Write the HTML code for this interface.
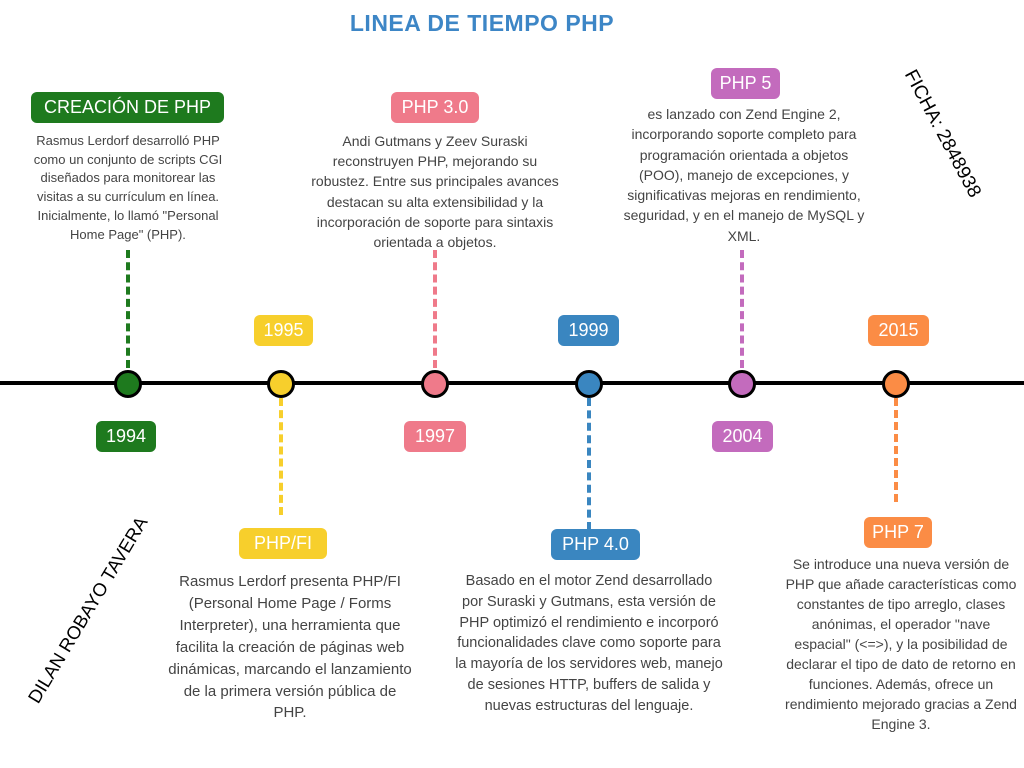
<!DOCTYPE html>
<html><head><meta charset="utf-8"><style>
body{margin:0;width:1024px;height:768px;background:#fff;position:relative;overflow:hidden;font-family:"Liberation Sans",sans-serif;}
.a{position:absolute}
.lb{position:absolute;color:#fff;border-radius:6px;text-align:center;font-size:18px;line-height:31px;height:31px;}
.d{position:absolute;text-align:center;color:#444;white-space:nowrap;transform:translateX(-50%);}
.v{position:absolute;width:0;border-left:4px dashed;}
.c{position:absolute;width:22px;height:22px;border:3px solid #000;border-radius:50%;top:370px;}
</style></head><body>
<div class="a" style="left:0;top:10px;width:964px;text-align:center;color:#3d86c6;font-size:23px;font-weight:bold;letter-spacing:0.5px">LINEA DE TIEMPO PHP</div>
<div class="a" style="left:0;top:381px;width:1024px;height:4px;background:#000"></div>

<div class="v" style="left:126px;top:250px;height:118px;border-color:#1e7a1e"></div>
<div class="v" style="left:279px;top:398px;height:117px;border-color:#f7cf2c"></div>
<div class="v" style="left:433px;top:250px;height:118px;border-color:#ef7a8a"></div>
<div class="v" style="left:587px;top:398px;height:132px;border-color:#3a86c0"></div>
<div class="v" style="left:740px;top:250px;height:118px;border-color:#c36bbd"></div>
<div class="v" style="left:894px;top:398px;height:104px;border-color:#fb8c45"></div>

<div class="c" style="left:114px;background:#1e7a1e"></div>
<div class="c" style="left:267px;background:#f7cf2c"></div>
<div class="c" style="left:421px;background:#ef7a8a"></div>
<div class="c" style="left:575px;background:#3a86c0"></div>
<div class="c" style="left:728px;background:#c36bbd"></div>
<div class="c" style="left:882px;background:#fb8c45"></div>

<div class="lb" style="left:31px;top:92px;width:193px;background:#1e7a1e">CREACIÓN DE PHP</div>
<div class="lb" style="left:96px;top:421px;width:60px;background:#1e7a1e">1994</div>
<div class="lb" style="left:254px;top:315px;width:59px;background:#f7cf2c">1995</div>
<div class="lb" style="left:239px;top:528px;width:88px;background:#f7cf2c">PHP/FI</div>
<div class="lb" style="left:391px;top:92px;width:88px;background:#ef7a8a">PHP 3.0</div>
<div class="lb" style="left:404px;top:421px;width:62px;background:#ef7a8a">1997</div>
<div class="lb" style="left:558px;top:315px;width:61px;background:#3a86c0">1999</div>
<div class="lb" style="left:551px;top:529px;width:89px;background:#3a86c0">PHP 4.0</div>
<div class="lb" style="left:711px;top:68px;width:69px;background:#c36bbd">PHP 5</div>
<div class="lb" style="left:712px;top:421px;width:61px;background:#c36bbd">2004</div>
<div class="lb" style="left:868px;top:315px;width:61px;background:#fb8c45">2015</div>
<div class="lb" style="left:864px;top:517px;width:68px;background:#fb8c45">PHP 7</div>

<div class="d" style="left:128px;top:132px;font-size:13px;line-height:18.7px">Rasmus Lerdorf desarrolló PHP<br>como un conjunto de scripts CGI<br>diseñados para monitorear las<br>visitas a su currículum en línea.<br>Inicialmente, lo llamó "Personal<br>Home Page" (PHP).</div>
<div class="d" style="left:290px;top:571px;font-size:15px;line-height:21.9px">Rasmus Lerdorf presenta PHP/FI<br>(Personal Home Page / Forms<br>Interpreter), una herramienta que<br>facilita la creación de páginas web<br>dinámicas, marcando el lanzamiento<br>de la primera versión pública de<br>PHP.</div>
<div class="d" style="left:435px;top:131px;font-size:14px;line-height:20.2px">Andi Gutmans y Zeev Suraski<br>reconstruyen PHP, mejorando su<br>robustez. Entre sus principales avances<br>destacan su alta extensibilidad y la<br>incorporación de soporte para sintaxis<br>orientada a objetos.</div>
<div class="d" style="left:589px;top:571px;font-size:14.5px;line-height:20.8px">Basado en el motor Zend desarrollado<br>por Suraski y Gutmans, esta versión de<br>PHP optimizó el rendimiento e incorporó<br>funcionalidades clave como soporte para<br>la mayoría de los servidores web, manejo<br>de sesiones HTTP, buffers de salida y<br>nuevas estructuras del lenguaje.</div>
<div class="d" style="left:744px;top:104px;font-size:14px;line-height:20.3px">es lanzado con Zend Engine 2,<br>incorporando soporte completo para<br>programación orientada a objetos<br>(POO), manejo de excepciones, y<br>significativas mejoras en rendimiento,<br>seguridad, y en el manejo de MySQL y<br>XML.</div>
<div class="d" style="left:901px;top:554px;font-size:14px;line-height:20px">Se introduce una nueva versión de<br>PHP que añade características como<br>constantes de tipo arreglo, clases<br>anónimas, el operador "nave<br>espacial" (&lt;=&gt;), y la posibilidad de<br>declarar el tipo de dato de retorno en<br>funciones. Además, ofrece un<br>rendimiento mejorado gracias a Zend<br>Engine 3.</div>

<div class="a" style="left:942px;top:134px;transform:translate(-50%,-50%) rotate(62deg);font-size:19px;white-space:nowrap;color:#000">FICHA: 2848938</div>
<div class="a" style="left:88px;top:610px;transform:translate(-50%,-50%) rotate(-59deg);font-size:18.5px;white-space:nowrap;color:#000">DILAN ROBAYO TAVERA</div>
</body></html>
